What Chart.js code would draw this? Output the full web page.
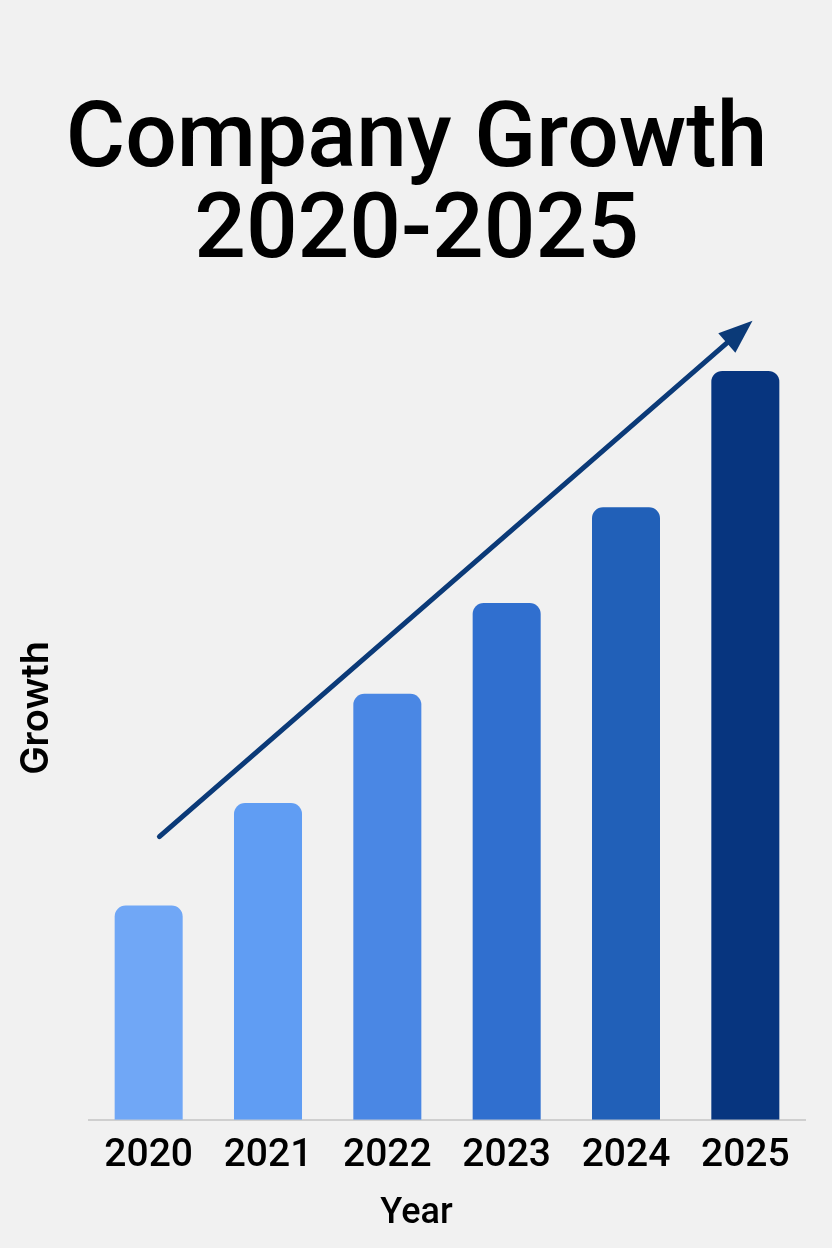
<!DOCTYPE html>
<html>
<head>
<meta charset="utf-8">
<script src="https://cdn.jsdelivr.net/npm/chart.js@4/dist/chart.umd.min.js"></script>
<style>
  html, body { margin: 0; padding: 0; background: #f1f1f1; }
  #wrap { width: 832px; height: 1248px; }
</style>
</head>
<body>
<div id="wrap"><canvas id="c" width="832" height="1248"></canvas></div>
<script>
// ---- data ----
const titleLines = ['Company Growth', '2020-2025'];
const years = ['2020', '2021', '2022', '2023', '2024', '2025'];
const growth = [28.6, 42.3, 56.9, 69.0, 81.8, 100.0];
const barColors = ['#70a7f6', '#609df3', '#4a87e4', '#306fcf', '#2160b8', '#07357f'];
const xTitle = 'Year';
const yTitle = 'Growth';
const yMax = 110;
// trend arrow: [category index, value]
const arrowFrom = [0.09, 37.8];
const arrowTo = [5.06, 106.7];

const FONT = 'Roboto, "Liberation Sans", Arial, sans-serif';

const arrowPlugin = {
  id: 'trendArrow',
  afterDatasetsDraw(chart) {
    const {ctx, scales: {x, y}} = chart;
    const x1 = x.getPixelForValue(arrowFrom[0]), y1 = y.getPixelForValue(arrowFrom[1]);
    const x2 = x.getPixelForValue(arrowTo[0]), y2 = y.getPixelForValue(arrowTo[1]);
    const ang = Math.atan2(y2 - y1, x2 - x1);
    const headLen = 34, headHalf = 13;
    const bx = x2 - headLen * Math.cos(ang), by = y2 - headLen * Math.sin(ang);
    ctx.save();
    ctx.strokeStyle = '#0b3a78';
    ctx.fillStyle = '#0b3a78';
    ctx.lineWidth = 5;
    ctx.lineCap = 'round';
    ctx.beginPath();
    ctx.moveTo(x1, y1);
    ctx.lineTo(bx + 4 * Math.cos(ang), by + 4 * Math.sin(ang));
    ctx.stroke();
    ctx.beginPath();
    ctx.moveTo(x2, y2);
    ctx.lineTo(bx + headHalf * Math.sin(ang), by - headHalf * Math.cos(ang));
    ctx.lineTo(bx - headHalf * Math.sin(ang), by + headHalf * Math.cos(ang));
    ctx.closePath();
    ctx.fill();
    ctx.restore();
  }
};

new Chart(document.getElementById('c'), {
  type: 'bar',
  data: {
    labels: years,
    datasets: [{
      data: growth,
      backgroundColor: barColors,
      borderWidth: 0,
      borderSkipped: 'start',
      borderRadius: {topLeft: 11, topRight: 11, bottomLeft: 0, bottomRight: 0},
      categoryPercentage: 1.0,
      barPercentage: 0.57
    }]
  },
  options: {
    responsive: false,
    animation: false,
    devicePixelRatio: 1,
    layout: { padding: { left: 14, right: 13, top: 0, bottom: 0 } },
    plugins: {
      legend: { display: false },
      tooltip: { enabled: false },
      title: {
        display: true,
        text: titleLines,
        color: '#000000',
        font: { family: FONT, size: 91, weight: '500', lineHeight: 1.0 },
        padding: { top: 98, bottom: 16 }
      },
      subtitle: {
        display: true,
        position: 'bottom',
        text: xTitle,
        color: '#000000',
        font: { family: FONT, size: 36, weight: '500', lineHeight: 1.2 },
        padding: { top: 0, bottom: 12 }
      }
    },
    scales: {
      x: {
        grid: { display: false, drawTicks: false },
        border: { display: true, color: '#cfcfcf', width: 2 },
        ticks: {
          color: '#000000',
          padding: 13,
          font: { family: FONT, size: 39, weight: '500' }
        },
        afterFit(s) { s.height = 73; }
      },
      y: {
        min: 0,
        max: yMax,
        grid: { display: false, drawTicks: false },
        border: { display: false },
        ticks: { display: false },
        title: {
          display: true,
          text: yTitle,
          color: '#000000',
          font: { family: 'Inter, "Liberation Sans", sans-serif', size: 38, weight: '600' },
          padding: { top: 0, bottom: 0 }
        },
        afterFit(s) { s.width = 75; }
      },
      yRight: {
        axis: 'y',
        position: 'right',
        grid: { display: false, drawTicks: false },
        border: { display: false },
        ticks: { display: false },
        afterFit(s) { s.width = 14; }
      }
    }
  },
  plugins: [arrowPlugin]
});
</script>
</body>
</html>
